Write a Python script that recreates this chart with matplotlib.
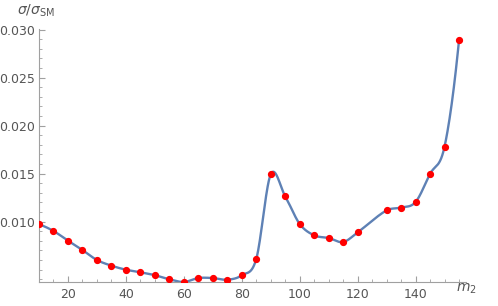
import numpy as np
import matplotlib
matplotlib.use("Agg")
import matplotlib.pyplot as plt
from matplotlib.ticker import MultipleLocator, FixedLocator, FormatStrFormatter

# data
m2 = [10, 15, 20, 25, 30, 35, 40, 45, 50, 55, 60, 65, 70, 75, 80, 85, 90, 95,
      100, 105, 110, 115, 120, 130, 135, 140, 145, 150, 155]
ratio = [0.00973, 0.00903, 0.00802, 0.00705, 0.00601, 0.00542, 0.00500, 0.00473,
         0.00443, 0.00400, 0.00372, 0.00413, 0.00413, 0.00396, 0.00442, 0.00612,
         0.01493, 0.01264, 0.00976, 0.00858, 0.00830, 0.00788, 0.00889, 0.01118,
         0.01146, 0.01205, 0.01498, 0.01782, 0.02891]
yticks = [0.010, 0.015, 0.020, 0.025, 0.030]


def smooth(x, y, xs):
    # cubic hermite, catmull-rom slopes inside, parabola slopes at the ends
    x = np.asarray(x, float)
    y = np.asarray(y, float)
    n = len(x)
    m = np.zeros(n)
    m[1:-1] = (y[2:] - y[:-2]) / (x[2:] - x[:-2])
    h0, h1 = x[1] - x[0], x[2] - x[1]
    m[0] = (-(2 * h0 + h1) / (h0 * (h0 + h1)) * y[0] + (h0 + h1) / (h0 * h1) * y[1]
            - h0 / (h1 * (h0 + h1)) * y[2])
    h0, h1 = x[-2] - x[-3], x[-1] - x[-2]
    m[-1] = (h1 / (h0 * (h0 + h1)) * y[-3] - (h0 + h1) / (h0 * h1) * y[-2]
             + (2 * h1 + h0) / (h1 * (h0 + h1)) * y[-1])
    idx = np.clip(np.searchsorted(x, xs) - 1, 0, n - 2)
    h = x[idx + 1] - x[idx]
    t = (xs - x[idx]) / h
    h00 = 2 * t**3 - 3 * t**2 + 1
    h10 = t**3 - 2 * t**2 + t
    h01 = -2 * t**3 + 3 * t**2
    h11 = t**3 - t**2
    return h00 * y[idx] + h10 * h * m[idx] + h01 * y[idx + 1] + h11 * h * m[idx + 1]


xs = np.linspace(m2[0], m2[-1], 800)
ys = smooth(m2, ratio, xs)

fig = plt.figure(figsize=(4.98, 3.06), dpi=100)
ax = fig.add_axes([0.0783, 0.0775, 0.858, 0.829])
ax.plot(xs, ys, color="#5E81B5", lw=1.7, zorder=2)
ax.plot(m2, ratio, "o", color="red", ms=4.2, zorder=3)

ax.set_xlim(10, 157.5)
ax.set_ylim(0.00369, 0.0301)

grey = "#a0a0a0"
for s in ["top", "right"]:
    ax.spines[s].set_visible(False)
for s in ["left", "bottom"]:
    ax.spines[s].set_color(grey)
    ax.spines[s].set_linewidth(0.8)

ax.xaxis.set_major_locator(MultipleLocator(20))
ax.xaxis.set_minor_locator(MultipleLocator(5))
ax.yaxis.set_major_locator(FixedLocator(yticks))
ax.yaxis.set_minor_locator(MultipleLocator(0.001))
ax.yaxis.set_major_formatter(FormatStrFormatter("%.3f"))
ax.tick_params(which="both", direction="in", color=grey, labelcolor="#555555",
               labelsize=9)
ax.tick_params(which="major", length=4, width=0.8)
ax.tick_params(which="minor", length=2.5, width=0.6)
ax.tick_params(axis="y", pad=3)
ax.tick_params(axis="x", pad=4)

fig.text(0.035, 0.965, r"$\sigma/\sigma_{\mathrm{SM}}$", color="#555555",
         fontsize=10, va="center", ha="left")
fig.text(0.916, 0.055, r"$m_2$", color="#555555", fontsize=10,
         va="center", ha="left")

plt.savefig("out.png", dpi=100)
